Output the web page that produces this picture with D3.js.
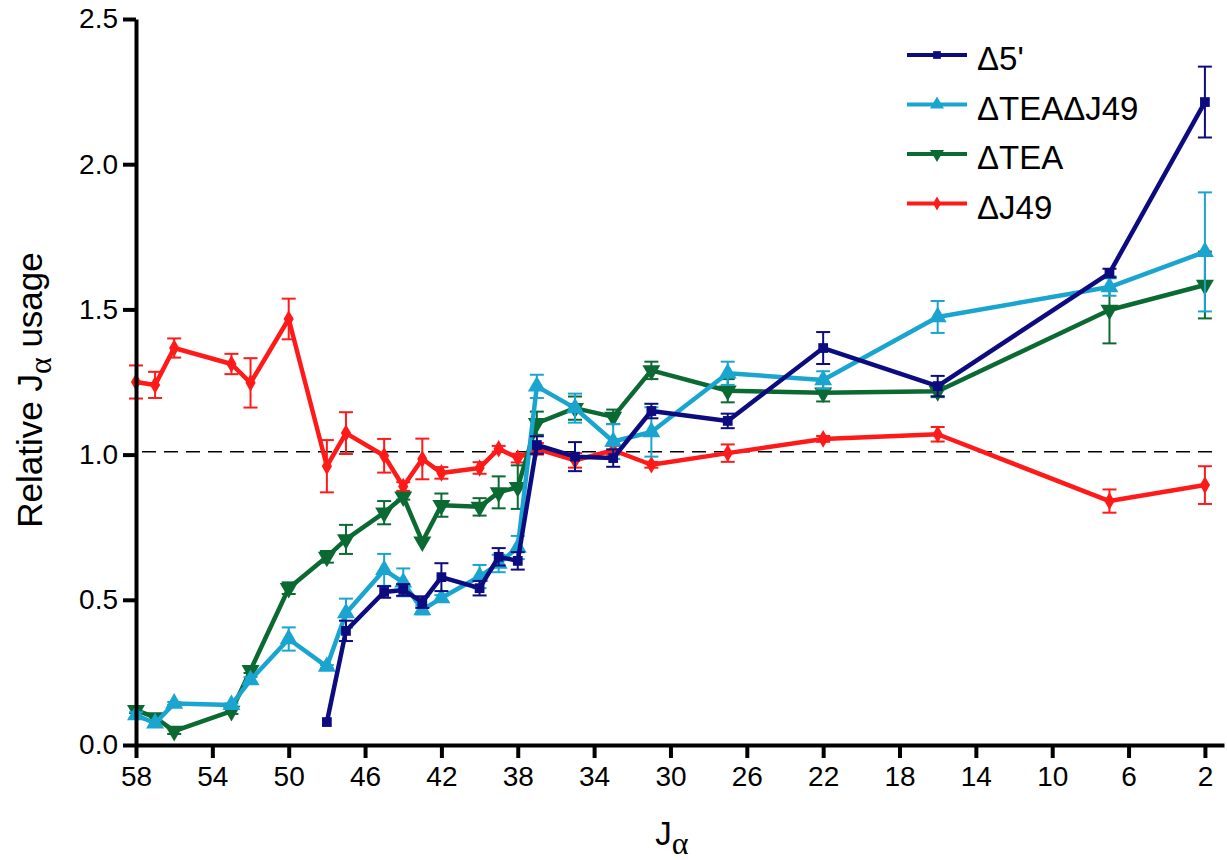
<!DOCTYPE html>
<html>
<head>
<meta charset="utf-8">
<script src="https://cdn.jsdelivr.net/npm/d3@7"></script>
<style>
  body { margin: 0; background: #fff; }
  svg { font-family: Arial, "Liberation Sans", sans-serif; }
</style>
</head>
<body>
<svg id="chart" width="1227" height="860"></svg>
<script>
// J alpha segments (x positions)
const jAll = [58, 57, 56, 53, 52, 50, 48, 47, 45, 44, 43, 42, 40, 39, 38, 37, 35, 33, 31, 27, 22, 16, 7, 2];
const j5 = [48, 47, 45, 44, 43, 42, 40, 39, 38, 37, 35, 33, 31, 27, 22, 16, 7, 2];

const d5Values = [0.079, 0.393, 0.527, 0.534, 0.492, 0.578, 0.54, 0.648, 0.634, 1.033, 0.993, 0.988, 1.15, 1.116, 1.367, 1.236, 1.625, 2.214];
const d5Err = [0, 0.035, 0.02, 0.02, 0.02, 0.048, 0.025, 0.03, 0.03, 0.03, 0.05, 0.03, 0.025, 0.025, 0.055, 0.035, 0.015, 0.122];

const teaJ49Values = [0.103, 0.075, 0.143, 0.138, 0.224, 0.365, 0.27, 0.454, 0.603, 0.56, 0.465, 0.506, 0.58, 0.625, 0.68, 1.235, 1.16, 1.045, 1.078, 1.28, 1.257, 1.474, 1.577, 1.698];
const teaJ49Err = [0.01, 0.01, 0.005, 0.005, 0.01, 0.04, 0.005, 0.05, 0.055, 0.048, 0.015, 0.01, 0.04, 0.03, 0.04, 0.04, 0.05, 0.06, 0.085, 0.04, 0.03, 0.055, 0.03, 0.205];

const teaValues = [0.12, 0.095, 0.048, 0.117, 0.258, 0.54, 0.648, 0.708, 0.80, 0.855, 0.70, 0.826, 0.82, 0.87, 0.888, 1.108, 1.16, 1.13, 1.29, 1.22, 1.213, 1.218, 1.498, 1.584];
const teaErr = [0.01, 0.01, 0.01, 0.01, 0.01, 0.02, 0.02, 0.05, 0.04, 0.01, 0, 0.04, 0.03, 0.055, 0.075, 0.04, 0.04, 0.025, 0.03, 0.04, 0.03, 0.02, 0.115, 0.115];

const j49Values = [1.25, 1.24, 1.367, 1.312, 1.247, 1.467, 0.96, 1.074, 0.996, 0.89, 0.985, 0.937, 0.954, 1.02, 0.988, 1.02, 0.98, 1.015, 0.965, 1.005, 1.054, 1.07, 0.84, 0.895];
const j49Err = [0.057, 0.045, 0.033, 0.035, 0.085, 0.07, 0.09, 0.072, 0.058, 0.015, 0.07, 0.02, 0.02, 0.01, 0.015, 0.02, 0.025, 0.015, 0.01, 0.03, 0.01, 0.025, 0.04, 0.065];

const xTicks = [58, 54, 50, 46, 42, 38, 34, 30, 26, 22, 18, 14, 10, 6, 2];
const yTicks = [0, 0.5, 1.0, 1.5, 2.0, 2.5];
const baseline = 1.01;

const series = [
  { name: "\u0394J49", xs: jAll, ys: j49Values, err: j49Err, color: "#ff1a1a", shape: "diamond" },
  { name: "\u0394TEA", xs: jAll, ys: teaValues, err: teaErr, color: "#0b6a32", shape: "down" },
  { name: "\u0394TEA\u0394J49", xs: jAll, ys: teaJ49Values, err: teaJ49Err, color: "#1aa5d0", shape: "up" },
  { name: "\u03945'", xs: j5, ys: d5Values, err: d5Err, color: "#0c0c80", shape: "square" }
];
const legendOrder = [3, 2, 1, 0];

const svg = d3.select("#chart");

const x = d3.scaleLinear().domain([58, 1]).range([136, 1224]);
const y = d3.scaleLinear().domain([0, 2.5]).range([745, 19]);

const symbolFor = (shape, big) => {
  if (shape === "square") return d3.symbol().type(d3.symbolSquare).size(big ? 95 : 60);
  if (shape === "diamond") return d3.symbol().type(d3.symbolDiamond).size(big ? 90 : 55);
  return d3.symbol().type(d3.symbolTriangle).size(big ? 140 : 85);
};

// dashed reference line
svg.append("line")
  .attr("x1", x(58) + 6).attr("x2", x(1.5))
  .attr("y1", y(baseline)).attr("y2", y(baseline))
  .attr("stroke", "#000").attr("stroke-width", 1.6)
  .attr("stroke-dasharray", "14,8");

// series
series.forEach(s => {
  const pts = s.xs.map((v, i) => ({ x: v, y: s.ys[i], e: s.err[i] }));
  const g = svg.append("g");

  const eb = g.selectAll(".err").data(pts.filter(d => d.e > 0)).enter().append("g")
    .attr("stroke", s.color).attr("stroke-width", 2);
  eb.append("line")
    .attr("x1", d => x(d.x)).attr("x2", d => x(d.x))
    .attr("y1", d => y(d.y - d.e)).attr("y2", d => y(d.y + d.e));
  eb.append("line")
    .attr("x1", d => x(d.x) - 7).attr("x2", d => x(d.x) + 7)
    .attr("y1", d => y(d.y + d.e)).attr("y2", d => y(d.y + d.e));
  eb.append("line")
    .attr("x1", d => x(d.x) - 7).attr("x2", d => x(d.x) + 7)
    .attr("y1", d => y(d.y - d.e)).attr("y2", d => y(d.y - d.e));

  g.append("path")
    .datum(pts)
    .attr("fill", "none")
    .attr("stroke", s.color)
    .attr("stroke-width", 4.5)
    .attr("stroke-linejoin", "round")
    .attr("d", d3.line().x(d => x(d.x)).y(d => y(d.y)));

  g.selectAll(".pt").data(pts).enter().append("path")
    .attr("transform", d => `translate(${x(d.x)},${y(d.y)})` + (s.shape === "down" ? " rotate(180)" : ""))
    .attr("d", symbolFor(s.shape, true))
    .attr("fill", s.color);
});

// axes
const xAxis = svg.append("g")
  .attr("transform", `translate(0,${y(0)})`)
  .call(d3.axisBottom(x).tickValues(xTicks).tickSize(13).tickSizeOuter(0).tickPadding(8));
xAxis.select(".domain").attr("stroke-width", 4);
xAxis.selectAll(".tick line").attr("stroke-width", 4);
xAxis.selectAll("text").attr("font-size", 28).attr("fill", "#000")
  .attr("font-family", "Arial, 'Liberation Sans', sans-serif");

const yAxis = svg.append("g")
  .attr("transform", `translate(${x(58)},0)`)
  .call(d3.axisLeft(y).tickValues(yTicks).tickFormat(d3.format(".1f")).tickSize(13).tickSizeOuter(0).tickPadding(5));
yAxis.select(".domain").attr("stroke-width", 4);
yAxis.selectAll(".tick line").attr("stroke-width", 4);
yAxis.selectAll("text").attr("font-size", 28).attr("fill", "#000")
  .attr("font-family", "Arial, 'Liberation Sans', sans-serif");

// axis titles
const yTitle = svg.append("text")
  .attr("transform", "translate(42,390) rotate(-90)")
  .attr("text-anchor", "middle")
  .attr("font-size", 35);
yTitle.append("tspan").text("Relative J");
yTitle.append("tspan").attr("dy", 9).attr("font-size", 32)
  .attr("font-family", "'Liberation Serif', 'DejaVu Serif', serif").text("\u03B1");
yTitle.append("tspan").attr("dy", -9).text(" usage");

const xTitle = svg.append("text")
  .attr("x", 672).attr("y", 845)
  .attr("text-anchor", "middle")
  .attr("font-size", 33);
xTitle.append("tspan").text("J");
xTitle.append("tspan").attr("dy", 9).attr("font-size", 32)
  .attr("font-family", "'Liberation Serif', 'DejaVu Serif', serif").text("\u03B1");

// legend
const legend = svg.append("g").attr("transform", "translate(907,55)");
legendOrder.forEach((si, i) => {
  const s = series[si];
  const row = legend.append("g").attr("transform", `translate(0,${i * 49.5})`);
  row.append("line").attr("x1", 0).attr("x2", 60).attr("y1", 0).attr("y2", 0)
    .attr("stroke", s.color).attr("stroke-width", 4);
  row.append("path")
    .attr("transform", "translate(30,0)" + (s.shape === "down" ? " rotate(180)" : ""))
    .attr("d", symbolFor(s.shape, false))
    .attr("fill", s.color);
  row.append("text").attr("x", 70).attr("y", 15)
    .attr("font-size", 33).attr("fill", "#000").text(s.name);
});
</script>
</body>
</html>
